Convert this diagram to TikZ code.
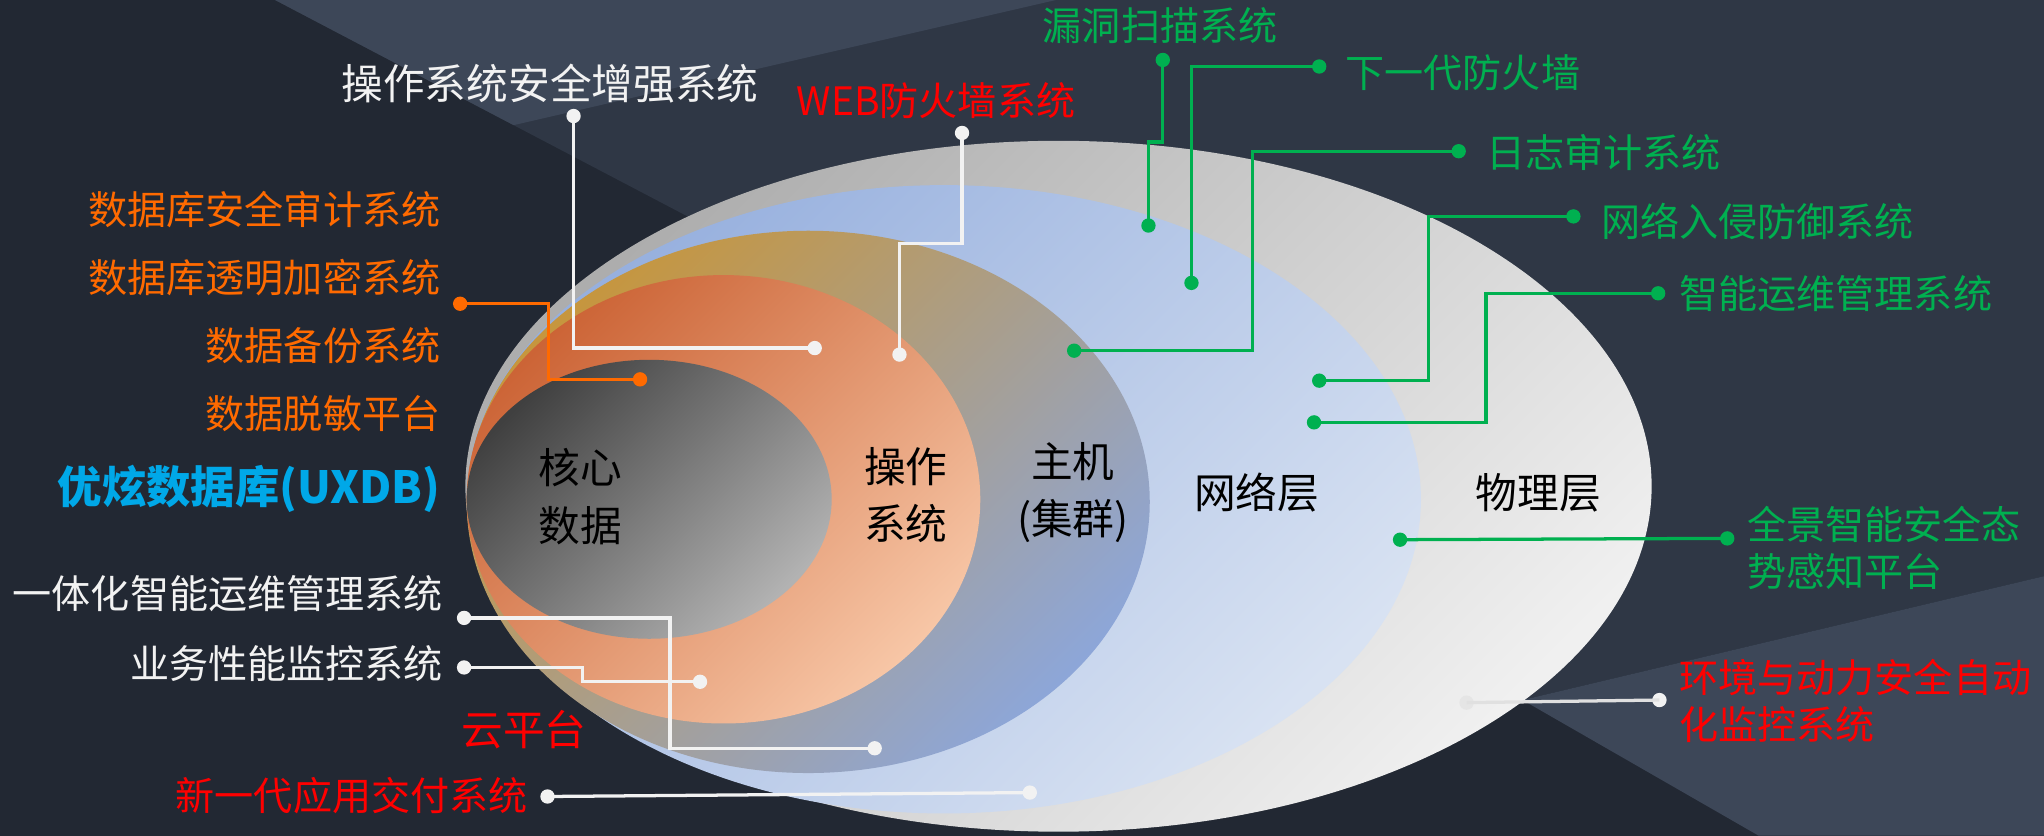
\documentclass[tikz,border=0pt]{standalone}
\usepackage{fontspec}
\setmainfont{Noto Sans CJK SC}
\definecolor{bgdark}{HTML}{222833}
\definecolor{bgmid}{HTML}{2F3745}
\definecolor{bglight}{HTML}{3D4758}
\definecolor{secgreen}{HTML}{00B050}
\definecolor{dborange}{HTML}{FF6A00}
\definecolor{uxblue}{HTML}{00A8E8}
\definecolor{txtwhite}{HTML}{F2F2F2}
\tikzset{
  sysdot/.style={circle,fill=#1,inner sep=0pt,minimum size=11pt},
  syslabel/.style={text=#1,font=\fontsize{30}{36}\selectfont,inner sep=0pt},
  layertext/.style={text=black,font=\fontsize{32}{44}\selectfont,align=center,inner sep=0pt},
  link/.style={draw=#1,line width=2.5pt},
}
\begin{document}
\begin{tikzpicture}[x=1pt,y=-1pt]
  \fill[bgdark] (0,0) rectangle (1568,641);
  \fill[bgmid] (211,0) -- (537,171) -- (1168,537) -- (1568,442) -- (1568,0) -- cycle;
  \fill[bglight] (211,0) -- (394,96) -- (810,0) -- cycle;
  \fill[bglight] (1168,537) -- (1568,442) -- (1568,641) -- (1349,641) -- cycle;
  \shade[top color=black!32,bottom color=black!6,shading angle=45] (812,373) ellipse [x radius=455,y radius=265];
  \shade[top color={rgb,255:red,151;green,176;blue,222},bottom color={rgb,255:red,216;green,226;blue,242},shading angle=45] (724,383) ellipse [x radius=366,y radius=241];
  \shade[top color={rgb,255:red,198;green,150;blue,62},bottom color={rgb,255:red,141;green,166;blue,216},shading angle=45] (620,385) ellipse [x radius=262,y radius=208];
  \shade[top color={rgb,255:red,204;green,100;blue,54},bottom color={rgb,255:red,247;green,198;blue,166},shading angle=45] (555,383) ellipse [x radius=197,y radius=172];
  \shade[top color=black!75,bottom color=black!30,shading angle=45] (498,383) ellipse [x radius=140,y radius=107];
  \node[layertext] (core) at (445,381) {核心\\数据};
  \node[layertext] (oslayer) at (695,380) {操作\\系统};
  \node[layertext] (host) at (823,378) {主机\\(集群)};
  \node[layertext] (net) at (964,378) {网络层};
  \node[layertext] (phys) at (1180,378) {物理层};
  \node[syslabel=txtwhite,font=\fontsize{32}{36}\selectfont] (oshard) at (422,64) {操作系统安全增强系统};
  \node[syslabel=red] (waf) at (718,77) {WEB防火墙系统};
  \node[syslabel=dborange,anchor=east] (dbaudit) at (338,161) {数据库安全审计系统};
  \node[syslabel=dborange,anchor=east] (dbenc) at (338,213) {数据库透明加密系统};
  \node[syslabel=dborange,anchor=east] (dbbak) at (338,265) {数据备份系统};
  \node[syslabel=dborange,anchor=east] (dbmask) at (338,317) {数据脱敏平台};
  \node[syslabel=uxblue,anchor=east,font=\fontsize{34}{36}\selectfont\bfseries] (uxdb) at (338,375) {优炫数据库(UXDB)};
  \node[syslabel=txtwhite,anchor=east] (opsmgr) at (340,455) {一体化智能运维管理系统};
  \node[syslabel=txtwhite,anchor=east] (apm) at (340,509) {业务性能监控系统};
  \node[syslabel=red,font=\fontsize{32}{36}\selectfont] (cloud) at (402,560) {云平台};
  \node[syslabel=red,anchor=east] (adc) at (405,610) {新一代应用交付系统};
  \node[syslabel=secgreen] (vulscan) at (890,20) {漏洞扫描系统};
  \node[syslabel=secgreen,anchor=west] (ngfw) at (1032,56) {下一代防火墙};
  \node[syslabel=secgreen,anchor=west] (logaudit) at (1140,117) {日志审计系统};
  \node[syslabel=secgreen,anchor=west] (ips) at (1228,170) {网络入侵防御系统};
  \node[syslabel=secgreen,anchor=west] (aiops) at (1288,225) {智能运维管理系统};
  \node[syslabel=secgreen,anchor=west,align=left] (situation) at (1340,420) {全景智能安全态\\势感知平台};
  \node[syslabel=red,anchor=west,align=left] (envmon) at (1288,538) {环境与动力安全自动\\化监控系统};
  \node[sysdot=txtwhite] (os1) at (440,89) {};
  \node[sysdot=txtwhite] (os2) at (625,267) {};
  \node[sysdot=txtwhite] (web1) at (738,102) {};
  \node[sysdot=txtwhite] (web2) at (690,272) {};
  \node[sysdot=dborange] (db1) at (353,233) {};
  \node[sysdot=dborange] (db2) at (491,291) {};
  \node[sysdot=txtwhite] (ops1) at (356,474) {};
  \node[sysdot=txtwhite] (ops2) at (671,574) {};
  \node[sysdot=txtwhite] (apm1) at (356,512) {};
  \node[sysdot=txtwhite] (apm2) at (537,523) {};
  \node[sysdot=txtwhite] (adc1) at (420,611) {};
  \node[sysdot=txtwhite] (adc2) at (790,608) {};
  \node[sysdot=secgreen] (vs1) at (892,46) {};
  \node[sysdot=secgreen] (vs2) at (881,173) {};
  \node[sysdot=secgreen] (fw1) at (1012,51) {};
  \node[sysdot=secgreen] (fw2) at (914,217) {};
  \node[sysdot=secgreen] (log1) at (1119,116) {};
  \node[sysdot=secgreen] (log2) at (824,269) {};
  \node[sysdot=secgreen] (ips1) at (1207,166) {};
  \node[sysdot=secgreen] (ips2) at (1012,292) {};
  \node[sysdot=secgreen] (ai1) at (1272,225) {};
  \node[sysdot=secgreen] (ai2) at (1008,324) {};
  \node[sysdot=secgreen] (sa1) at (1325,413) {};
  \node[sysdot=secgreen] (sa2) at (1074,414) {};
  \node[sysdot=txtwhite] (env1) at (1273,537) {};
  \node[sysdot=white!90!black] (env2) at (1125,539) {};
  \draw[link=txtwhite] (os1.center) |- (os2.center);
  \draw[link=txtwhite] (web1.center) -- ++(0,85) -| (web2.center);
  \draw[link=dborange] (db1.center) -- ++(68,0) |- (db2.center);
  \draw[link=txtwhite] (ops1.center) -- ++(158,0) |- (ops2.center);
  \draw[link=txtwhite] (apm1.center) -- ++(91,0) |- (apm2.center);
  \draw[link=txtwhite] (adc1.center) -- (adc2.center);
  \draw[link=secgreen] (vs1.center) -- ++(0,63) -| (vs2.center);
  \draw[link=secgreen] (fw1.center) -| (fw2.center);
  \draw[link=secgreen] (log1.center) -- ++(-158,0) |- (log2.center);
  \draw[link=secgreen] (ips1.center) -- ++(-111,0) |- (ips2.center);
  \draw[link=secgreen] (ai1.center) -- ++(-132,0) |- (ai2.center);
  \draw[link=secgreen] (sa1.center) -- (sa2.center);
  \draw[link=white!88!black] (env1.center) -- (env2.center);
\end{tikzpicture}
\end{document}
